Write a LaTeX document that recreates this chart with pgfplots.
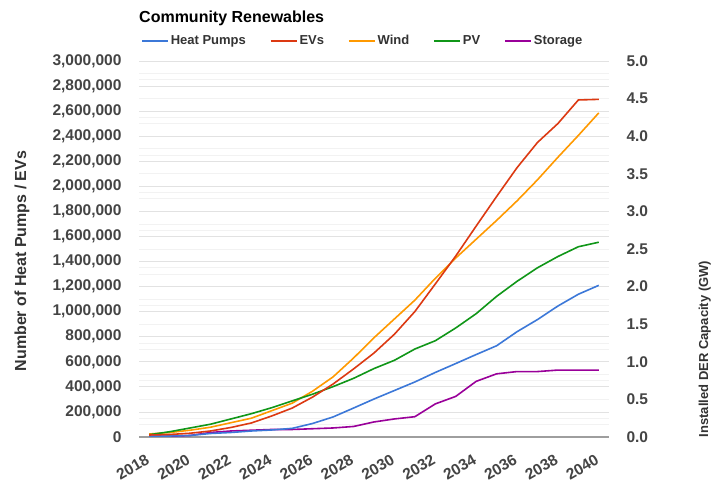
\documentclass[border=0pt]{standalone}
\usepackage{fontspec}
\setmainfont{Liberation Sans}
\usepackage{pgfplots}
\pgfplotsset{compat=1.18}
\usepackage{pgfplotstable}
\definecolor{hp}{HTML}{3C78D8}
\definecolor{ev}{HTML}{DC3912}
\definecolor{wind}{HTML}{FF9900}
\definecolor{pv}{HTML}{109618}
\definecolor{sto}{HTML}{990099}
\definecolor{tick}{HTML}{444444}
\definecolor{lab}{HTML}{333333}
\definecolor{gmaj}{HTML}{E2E2E2}
\definecolor{gmin}{HTML}{F2F2F2}
\definecolor{base}{HTML}{9E9E9E}

\pgfplotstableread{
year HP EV Wind PV Storage
2018 5000 16000 0.04 0.03 0.01
2019 8000 20000 0.06 0.07 0.01
2020 12000 30000 0.09 0.12 0.02
2021 28000 48000 0.13 0.17 0.06
2022 36000 76000 0.19 0.24 0.08
2023 48000 112000 0.25 0.31 0.09
2024 56000 168000 0.35 0.39 0.10
2025 69000 231000 0.45 0.48 0.10
2026 108000 319000 0.61 0.57 0.11
2027 160000 423000 0.80 0.67 0.12
2028 231000 543000 1.05 0.78 0.14
2029 303000 670000 1.32 0.91 0.20
2030 371000 820000 1.57 1.02 0.24
2031 439000 1001000 1.82 1.17 0.27
2032 515000 1221000 2.11 1.28 0.44
2033 586000 1444000 2.38 1.45 0.54
2034 658000 1683000 2.63 1.64 0.74
2035 728000 1919000 2.88 1.87 0.84
2036 840000 2149000 3.14 2.07 0.87
2037 937000 2350000 3.42 2.25 0.87
2038 1045000 2501000 3.72 2.40 0.89
2039 1139000 2689000 4.01 2.53 0.89
2040 1210000 2694000 4.31 2.59 0.89
}\data

\begin{document}
\begin{tikzpicture}
\pgfplotsset{
  common/.style={
    set layers,
    scale only axis, width=470pt, height=376pt,
    at={(139pt,44pt)}, anchor=south west,
    xmin=2017.5, xmax=2040.5,
    major tick length=0pt, minor tick length=0pt,
    ymajorgrids, yminorgrids, minor y tick num=1,
    major grid style={color=gmaj, line width=0.8pt},
    minor grid style={color=gmin, line width=0.8pt},
    y axis line style={draw=none},
    /pgf/number format/assume math mode=true,
    ticklabel style={font=\bfseries\fontsize{15.5}{18}\selectfont, text=tick},
    scaled y ticks=false,
    every axis plot/.append style={line width=1.6pt, no marks},
  },
}
\begin{axis}[common,
  axis y line*=right, axis x line=none,
  ymin=0, ymax=5,
  ytick={0,0.5,1,1.5,2,2.5,3,3.5,4,4.5,5},
  yticklabel style={/pgf/number format/.cd, fixed, fixed zerofill, precision=1, /tikz/.cd, xshift=14pt},
  ylabel={Installed DER Capacity (GW)},
  ylabel style={at={(axis description cs:1.204,0.234)}, anchor=center, font=\bfseries\fontsize{13}{15}\selectfont, text=lab},
]
\addplot[wind] table[x=year, y=Wind] {\data};
\addplot[pv] table[x=year, y=PV] {\data};
\addplot[sto] table[x=year, y=Storage] {\data};
\end{axis}
\begin{axis}[common,
  axis y line*=left, axis x line*=bottom,
  x axis line style={color=base, line width=1.1pt},
  ymin=0, ymax=3000000,
  ytick={0,200000,400000,600000,800000,1000000,1200000,1400000,1600000,1800000,2000000,2200000,2400000,2600000,2800000,3000000},
  yticklabel style={/pgf/number format/.cd, fixed, precision=0, 1000 sep={,}, /tikz/.cd, xshift=-14pt},
  xtick={2018,2020,...,2040},
  xticklabel style={/pgf/number format/1000 sep={}, anchor=north east, xshift=-3pt, yshift=-12pt, rotate=30},
  ylabel={Number of Heat Pumps / EVs},
  ylabel style={at={(axis description cs:-0.249,0.468)}, anchor=center, font=\bfseries\fontsize{16}{18}\selectfont, text=lab},
  title={Community Renewables},
  title style={at={(0,1)}, anchor=west, yshift=37pt, inner sep=0pt, font=\bfseries\fontsize{16}{18}\selectfont, text=black},
  legend columns=-1,
  legend image code/.code={\draw[#1, line width=1.6pt] (0pt,0pt) -- (26pt,0pt);},
  legend style={at={(0,1)}, anchor=west, yshift=20pt, xshift=-1pt, draw=none, fill=none,
    font=\bfseries\fontsize{13}{15}\selectfont, text=lab,
    /tikz/every even column/.append style={column sep=22pt}},
]
\addplot[hp] table[x=year, y=HP] {\data};
\addlegendentry{Heat Pumps}
\addplot[ev] table[x=year, y=EV] {\data};
\addlegendentry{EVs}
\addlegendimage{wind, line width=1.6pt}
\addlegendentry{Wind}
\addlegendimage{pv, line width=1.6pt}
\addlegendentry{PV}
\addlegendimage{sto, line width=1.6pt}
\addlegendentry{Storage}
\end{axis}
\pgfresetboundingbox
\path[use as bounding box] (0,0) rectangle (720pt,481pt);
\end{tikzpicture}
\end{document}
